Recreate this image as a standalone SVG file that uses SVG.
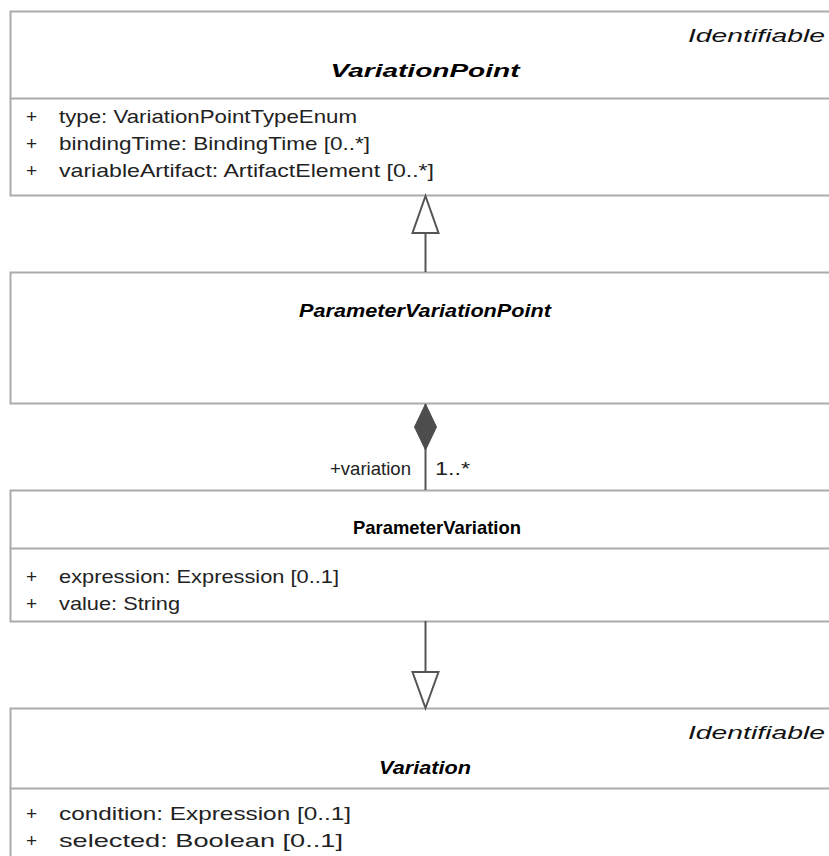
<svg xmlns="http://www.w3.org/2000/svg" width="829" height="856" viewBox="0 0 829 856">
<defs>
<style>
.box{fill:#fff;stroke:#ababab;stroke-width:2}
.sep{stroke:#ababab;stroke-width:2}
text{font-family:"Liberation Sans","DejaVu Sans",sans-serif;font-size:19px;fill:#222}
.title{font-weight:bold;text-anchor:middle;fill:#000}
.it{font-style:italic}
.stereo{font-style:italic;text-anchor:end;fill:#111}
.conn{stroke:#555;stroke-width:2;fill:none}
</style>
</defs>
<rect width="829" height="856" fill="#fff"/>
<g id="VariationPoint">
<rect class="box" x="10.5" y="11.5" width="840" height="184"/>
<line class="sep" x1="10.5" y1="98.5" x2="850" y2="98.5"/>
<text class="stereo" x="825" y="42" textLength="137" lengthAdjust="spacingAndGlyphs">Identifiable</text>
<text class="title it" x="425" y="77" textLength="189" lengthAdjust="spacingAndGlyphs">VariationPoint</text>
<text x="26" y="123">+</text><text x="59" y="123" textLength="298" lengthAdjust="spacingAndGlyphs">type: VariationPointTypeEnum</text>
<text x="26" y="150">+</text><text x="59" y="150" textLength="311" lengthAdjust="spacingAndGlyphs">bindingTime: BindingTime [0..*]</text>
<text x="26" y="177">+</text><text x="59" y="177" textLength="375" lengthAdjust="spacingAndGlyphs">variableArtifact: ArtifactElement [0..*]</text>
</g>
<g id="ParameterVariationPoint">
<rect class="box" x="10.5" y="272.5" width="840" height="131"/>
<text class="title it" x="425" y="317" textLength="252" lengthAdjust="spacingAndGlyphs">ParameterVariationPoint</text>
</g>
<g id="ParameterVariation">
<rect class="box" x="10.5" y="490.5" width="840" height="131"/>
<line class="sep" x1="10.5" y1="548.5" x2="850" y2="548.5"/>
<text class="title" x="437" y="534" textLength="168" lengthAdjust="spacingAndGlyphs">ParameterVariation</text>
<text x="26" y="583">+</text><text x="59" y="583" textLength="280" lengthAdjust="spacingAndGlyphs">expression: Expression [0..1]</text>
<text x="26" y="610">+</text><text x="59" y="610" textLength="121" lengthAdjust="spacingAndGlyphs">value: String</text>
</g>
<g id="Variation">
<rect class="box" x="10.5" y="708.5" width="840" height="170"/>
<line class="sep" x1="10.5" y1="788.5" x2="850" y2="788.5"/>
<text class="stereo" x="825" y="739" textLength="137" lengthAdjust="spacingAndGlyphs">Identifiable</text>
<text class="title it" x="425" y="774" textLength="92" lengthAdjust="spacingAndGlyphs">Variation</text>
<text x="26" y="820">+</text><text x="59" y="820" textLength="292" lengthAdjust="spacingAndGlyphs">condition: Expression [0..1]</text>
<text x="26" y="847">+</text><text x="59" y="847" textLength="284" lengthAdjust="spacingAndGlyphs">selected: Boolean [0..1]</text>
</g>
<g id="connectors">
<line class="conn" x1="425.5" y1="272" x2="425.5" y2="233"/>
<polygon class="conn" points="425.5,196 438.5,233 412.5,233" style="fill:#fff"/>
<line class="conn" x1="425.5" y1="404" x2="425.5" y2="490"/>
<polygon points="425.5,404 436.5,427 425.5,450 414.5,427" fill="#4d4d4d" stroke="#4d4d4d"/>
<text x="411" y="475" text-anchor="end" textLength="81" lengthAdjust="spacingAndGlyphs">+variation</text>
<text x="435" y="475" textLength="35" lengthAdjust="spacingAndGlyphs">1..*</text>
<line class="conn" x1="425.5" y1="621" x2="425.5" y2="672"/>
<polygon class="conn" points="425.5,708 438.5,672 412.5,672" style="fill:#fff"/>
</g>
</svg>
